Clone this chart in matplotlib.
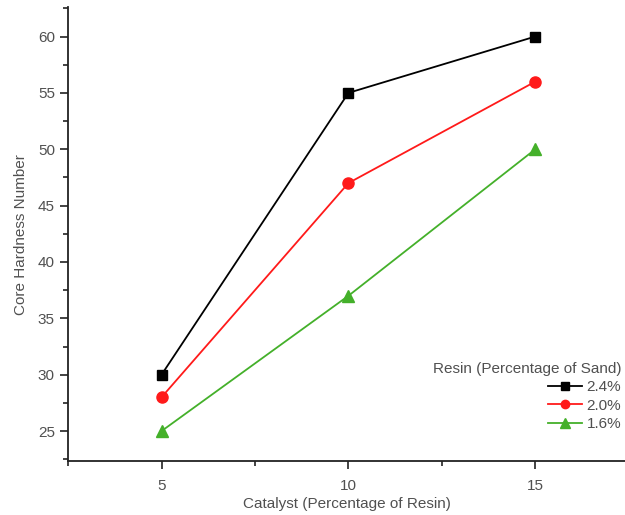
import matplotlib.pyplot as plt
from matplotlib.ticker import MultipleLocator

catalyst = [5, 10, 15]
resin_24 = [30, 55, 60]
resin_20 = [28, 47, 56]
resin_16 = [25, 37, 50]

plt.rcParams['font.family'] = ['Liberation Sans', 'DejaVu Sans']
text_color = '#505050'

fig = plt.figure(figsize=(6.25, 5.15), dpi=100)
ax = fig.add_axes([0.109, 0.105, 0.891, 0.881])

ax.plot(catalyst, resin_24, color='black', marker='s', markersize=7, linewidth=1.3, label='2.4%')
ax.plot(catalyst, resin_20, color='#ff1a1a', marker='o', markersize=8, linewidth=1.3, label='2.0%')
ax.plot(catalyst, resin_16, color='#44b02a', marker='^', markersize=9, linewidth=1.3, label='1.6%')

ax.set_xlim(2.5, 17.4)
ax.set_ylim(22.35, 62.6)
ax.xaxis.set_major_locator(MultipleLocator(5))
ax.xaxis.set_minor_locator(MultipleLocator(2.5))
ax.yaxis.set_major_locator(MultipleLocator(5))
ax.yaxis.set_minor_locator(MultipleLocator(2.5))

for side in ['top', 'right']:
    ax.spines[side].set_visible(False)
for side in ['left', 'bottom']:
    ax.spines[side].set_linewidth(1.3)
    ax.spines[side].set_color('#222222')

ax.tick_params(which='major', direction='out', length=6, width=1.2, colors='#222222',
               labelcolor=text_color, labelsize=11)
ax.tick_params(axis='x', which='major', pad=7)
ax.tick_params(which='minor', direction='out', length=3.5, width=1.2, colors='#222222')

ax.set_xlabel('Catalyst (Percentage of Resin)', fontsize=11, color=text_color, labelpad=3)
ax.set_ylabel('Core Hardness Number', fontsize=11, color=text_color, labelpad=7)

leg = ax.legend(title='Resin (Percentage of Sand)', loc='lower right', bbox_to_anchor=(1.018, 0.035),
                frameon=False, fontsize=11, title_fontsize=11, handlelength=2.2,
                handletextpad=0.3, labelspacing=0.3, markerscale=0.75, alignment='right')
leg.get_title().set_color(text_color)
for t in leg.get_texts():
    t.set_color(text_color)

plt.savefig('out.png', dpi=100)
plt.close()
